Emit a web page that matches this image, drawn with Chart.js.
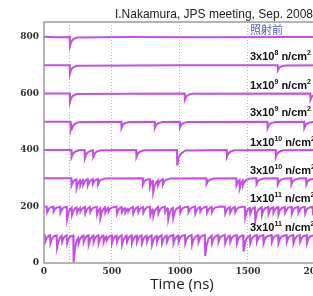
<!DOCTYPE html>
<html>
<head>
<meta charset="utf-8">
<script src="https://cdn.jsdelivr.net/npm/chart.js@4.4.0/dist/chart.umd.min.js"></script>
<style>
  html, body { margin: 0; padding: 0; background: #fff; overflow: hidden; }
  #wrap { width: 313px; height: 296px; overflow: hidden; }
</style>
</head>
<body>
<div id="wrap"><canvas id="chart" width="320" height="296"></canvas></div>
<script>
// traces, [time ns, offset value]
const tracePre = [[0,801],[100,799],[189,800],[191,768],[200,782],[215,792],[240,798],[600,800],[1200,799],[1800,800],[2100,800]];
const trace3e8 = [[0,700],[189,700],[191,670],[200,684],[215,693],[240,698],[1000,700],[1718,700],[1720,682],[1730,691],[1745,696],[1775,699],[2100,700]];
const trace1e9 = [[0,600],[189,600],[191,570],[200,584],[215,593],[240,598],[1034,600],[1036,578],[1046,589],[1061,595],[1090,599],
  [1958,600],[1960,578],[1970,589],[1985,595],[2015,599],[2100,600]];
const trace3e9 = [[0,500],[195,500],[197,472],[204,484],[208,478],[218,489],[235,495],[265,499],
  [568,500],[570,478],[580,489],[595,495],[625,499],[813,500],[815,478],[825,489],[840,495],[870,499],
  [998,500],[1000,480],[1010,490],[1025,495],[1055,499],[1643,500],[1645,478],[1655,489],[1670,495],[1700,499],
  [1913,500],[1915,478],[1925,489],[1940,495],[1970,499],[2100,500]];
const trace1e10 = [[0,400],[201,400],[203,375],[213,387],[228,394],[258,399],
  [298,400],[300,370],[310,385],[325,393],[350,398],[360,399],[362,375],[372,387],[387,394],[417,399],
  [678,400],[680,375],[690,387],[705,394],[735,399],[978,400],[980,345],[990,372],[1005,386],[1040,398],
  [1343,400],[1345,375],[1355,387],[1370,394],[1400,399],[1703,400],[1705,375],[1715,387],[1730,394],[1760,399],[2100,400]];
const trace3e10 = [[0,300],[201,300],[203,275],[213,287],[228,294],[238,296],[240,265],[250,282],[262,292],
  [265,293],[267,275],[277,287],[285,292],[287,293],[289,278],[299,289],[313,295],[321,297],[323,275],[333,287],[348,294],
  [358,297],[360,280],[370,290],[385,295],[395,297],[397,278],[407,289],[422,295],[450,299],
  [726,300],[728,278],[738,289],[753,295],[777,297],[779,270],[789,285],[799,292],[801,293],[803,250],[813,272],[828,287],
  [836,292],[838,275],[848,287],[863,294],[873,297],[875,278],[885,289],[900,295],[930,299],
  [1194,300],[1196,280],[1206,290],[1221,295],[1250,299],[1414,300],[1416,275],[1426,287],[1438,293],
  [1440,265],[1450,282],[1461,291],[1463,275],[1473,287],[1488,294],[1515,299],[1561,300],[1563,280],[1573,290],[1588,295],[1615,299],
  [1718,300],[1720,278],[1730,289],[1745,295],[1775,299],[1818,300],[1820,278],[1830,289],[1845,295],[1875,299],
  [1928,300],[1930,278],[1940,289],[1955,295],[1985,299],[2100,300]];
const trace1e11 = [[0,200],[20,199],[23,180],[33,190],[46,196],[68,199],[71,182],[81,191],[94,196],[118,199],[121,178],[131,189],[144,196],
  [167,199],[170,155],[180,178],[193,191],[203,196],[206,170],[216,185],[229,194],[240,197],[243,178],[253,189],[263,194],
  [265,195],[268,182],[278,191],[291,196],[301,198],[304,175],[314,188],[327,195],[338,198],[341,180],[351,190],[364,196],
  [387,198],[390,172],[400,186],[410,192],[412,193],[415,160],[425,180],[438,192],[448,197],[451,178],[461,189],[470,194],
  [472,195],[475,182],[485,191],[498,196],[534,199],[537,175],[547,188],[560,195],[571,198],[574,180],[584,190],[593,195],
  [595,196],[598,178],[608,189],[615,193],[617,194],[620,182],[630,191],[643,196],[654,198],[657,175],[667,188],[680,195],
  [691,198],[694,180],[704,190],[717,196],[728,198],[731,178],[741,189],[754,196],[779,199],[782,170],[792,185],[799,190],
  [801,191],[804,165],[814,183],[827,193],[838,198],[841,175],[851,188],[864,195],[889,199],[892,180],[902,190],[909,194],
  [911,195],[914,155],[924,178],[937,191],[948,195],[951,160],[961,180],[974,192],[1000,199],[1003,178],[1013,189],[1026,196],
  [1060,199],[1063,180],[1073,190],[1086,196],[1110,199],[1113,175],[1123,188],[1136,195],[1147,198],[1150,182],[1160,191],[1173,196],
  [1196,199],[1199,178],[1209,189],[1222,196],[1232,198],[1235,180],[1245,190],[1258,196],[1300,200],
  [1330,199],[1333,175],[1343,188],[1356,195],[1367,198],[1370,178],[1380,189],[1393,196],[1404,198],[1407,180],[1417,190],[1430,196],[1460,199],
  [1477,199],[1480,160],[1490,180],[1503,192],[1514,195],[1517,175],[1527,188],[1540,195],[1551,197],[1554,150],[1564,175],[1577,190],
  [1600,197],[1603,170],[1613,185],[1626,194],[1649,198],[1652,175],[1662,188],[1675,195],[1685,197],[1688,178],[1698,189],[1711,196],
  [1722,198],[1725,172],[1735,186],[1748,194],[1771,198],[1774,178],[1784,189],[1797,196],[1820,198],[1823,175],[1833,188],[1846,195],
  [1869,198],[1872,178],[1882,189],[1895,196],[1918,198],[1921,175],[1931,188],[1944,195],[1975,199],[1978,180],[1988,190],[2001,196],
  [2040,199],[2043,178],[2053,189],[2066,196],[2100,200]];
const trace3e11 = [[0,100],[7,99],[10,75],[20,88],[33,95],[44,98],[47,70],[57,85],[70,94],[93,98],[96,54],[106,77],[119,91],
  [130,96],[133,75],[143,88],[156,95],[167,98],[170,70],[180,85],[193,94],[215,97],[218,2],[228,50],[241,80],
  [252,88],[255,70],[265,85],[278,94],[289,97],[292,75],[302,88],[315,95],[326,98],[329,65],[339,82],[352,93],
  [362,97],[365,75],[375,88],[388,95],[399,98],[402,70],[412,85],[425,94],[436,97],[439,75],[449,88],[458,93],
  [460,94],[463,80],[473,90],[486,96],[497,98],[500,70],[510,85],[523,94],[534,97],[537,75],[547,88],[560,95],
  [571,98],[574,65],[584,82],[597,93],[608,97],[611,75],[621,88],[634,95],[644,98],[647,70],[657,85],[670,94],
  [681,97],[684,75],[694,88],[707,95],[718,98],[721,70],[731,85],[744,94],[755,97],[758,75],[768,88],[781,95],
  [792,98],[795,65],[805,82],[818,93],[828,96],[831,75],[841,88],[854,95],[865,98],[868,70],[878,85],[891,94],
  [902,97],[905,75],[915,88],[928,95],[950,99],[953,70],[963,85],[976,94],[987,97],[990,75],[1000,88],[1013,95],
  [1036,99],[1039,70],[1049,85],[1062,94],[1086,99],[1089,65],[1099,82],[1112,93],[1134,98],[1137,75],[1147,88],[1160,95],
  [1183,99],[1186,25],[1196,62],[1209,85],[1233,97],[1236,70],[1246,85],[1259,94],[1281,99],[1284,75],[1294,88],[1307,95],
  [1330,99],[1333,70],[1343,85],[1356,94],[1367,97],[1370,75],[1380,88],[1393,95],[1416,99],[1419,70],[1429,85],[1442,94],
  [1465,98],[1468,40],[1478,70],[1491,88],[1514,97],[1517,70],[1527,85],[1540,94],[1563,99],[1566,75],[1576,88],[1589,95],
  [1612,99],[1615,70],[1625,85],[1638,94],[1673,99],[1676,75],[1686,88],[1699,95],[1722,99],[1725,70],[1735,85],[1748,94],
  [1783,99],[1786,75],[1796,88],[1809,95],[1832,99],[1835,70],[1845,85],[1858,94],[1881,99],[1884,75],[1894,88],[1907,95],
  [1931,99],[1934,70],[1944,85],[1957,94],[1990,99],[1993,75],[2003,88],[2016,95],[2050,99],[2053,72],[2063,86],[2076,94],[2100,100]];

const xTicks = [0, 190, 500, 1000, 1500, 2000];
const xTickLabels = ['0', '', '500', '1000', '1500', '2000'];
const yTicks = [0, 200, 400, 600, 800];

// fluence labels on the right, ^ marks a superscript
const labelTexts = ['照射前', '3x10^8 n/cm^2', '1x10^9 n/cm^2', '3x10^9 n/cm^2', '1x10^10 n/cm^2', '3x10^10 n/cm^2', '1x10^11 n/cm^2', '3x10^11 n/cm^2'];
const labelValues = [825, 729, 627, 531, 425, 326, 227, 124];
const labelTime = 1515;

const traceColor = '#c54ee8';

function drawRich(ctx, text, x, y) {
  const parts = text.split(/\^(\d+)/);
  let cx = x;
  parts.forEach((p, i) => {
    if (i % 2 === 1) {
      ctx.font = 'bold 7px "Liberation Sans", Arial, sans-serif';
      ctx.fillText(p, cx, y - 4);
    } else {
      ctx.font = 'bold 11px "Liberation Sans", Arial, sans-serif';
      ctx.fillText(p, cx, y);
    }
    cx += ctx.measureText(p).width;
  });
}

const overlay = {
  id: 'overlay',
  afterDraw(chart) {
    const ctx = chart.ctx;
    const a = chart.chartArea;
    const xs = chart.scales.x;
    const ys = chart.scales.y;
    ctx.save();
    // plot frame
    ctx.strokeStyle = '#9a9a9a';
    ctx.lineWidth = 1.5;
    ctx.strokeRect(a.left, a.top, a.right - a.left, a.bottom - a.top);
    // source note
    ctx.fillStyle = '#222';
    ctx.font = '12px "Liberation Sans", Arial, sans-serif';
    ctx.textAlign = 'right';
    ctx.textBaseline = 'alphabetic';
    ctx.fillText('I.Nakamura, JPS meeting, Sep. 2008', 313, 18);
    // trace labels
    ctx.textAlign = 'left';
    ctx.textBaseline = 'middle';
    labelTexts.forEach((t, i) => {
      const px = xs.getPixelForValue(labelTime);
      const py = ys.getPixelForValue(labelValues[i]);
      if (i === 0) {
        ctx.fillStyle = '#4a5ed6';
        ctx.font = '11px "Noto Sans CJK JP", sans-serif';
        ctx.fillText(t, px, py);
      } else {
        ctx.fillStyle = '#111';
        drawRich(ctx, t, px, py);
      }
    });
    ctx.restore();
  }
};

const series = [tracePre, trace3e8, trace1e9, trace3e9, trace1e10, trace3e10, trace1e11, trace3e11];

new Chart(document.getElementById('chart'), {
  type: 'line',
  data: {
    datasets: series.map((d) => ({
      data: d,
      borderColor: traceColor,
      borderWidth: 2,
      pointRadius: 0,
      tension: 0,
      fill: false,
    })),
  },
  options: {
    responsive: false,
    animation: false,
    devicePixelRatio: 1,
    layout: { padding: { top: 22, right: 0, bottom: 2, left: 0 } },
    plugins: {
      legend: { display: false },
      tooltip: { enabled: false },
    },
    scales: {
      x: {
        type: 'linear',
        min: 0,
        max: 2030,
        afterBuildTicks: (scale) => { scale.ticks = xTicks.map((v) => ({ value: v })); },
        afterFit: (scale) => { scale.height = 31; scale.paddingLeft = 0; scale.paddingRight = 0; },
        ticks: {
          padding: 3,
          maxRotation: 0,
          autoSkip: false,
          color: '#333',
          font: { family: '"DejaVu Serif", serif', size: 9, weight: 'bold' },
          callback: (v, i) => xTickLabels[i],
        },
        grid: {
          drawTicks: false,
          color: (c) => (c.tick && c.tick.value === 0 ? 'rgba(0,0,0,0)' : '#b5b5b5'),
          lineWidth: 1,
        },
        border: { display: false, dash: [1, 2] },
        title: {
          display: true,
          text: 'Time (ns)',
          color: '#222',
          padding: { top: 0, bottom: 0 },
          font: { family: '"Open Sans", sans-serif', size: 15 },
        },
      },
      y: {
        min: 0,
        max: 853,
        afterBuildTicks: (scale) => { scale.ticks = yTicks.map((v) => ({ value: v })); },
        afterFit: (scale) => { scale.width = 44; },
        ticks: {
          padding: 5,
          color: '#333',
          font: { family: '"DejaVu Serif", serif', size: 9, weight: 'bold' },
        },
        grid: { display: false, drawTicks: false },
        border: { display: false },
      },
    },
  },
  plugins: [overlay],
});
</script>
</body>
</html>
